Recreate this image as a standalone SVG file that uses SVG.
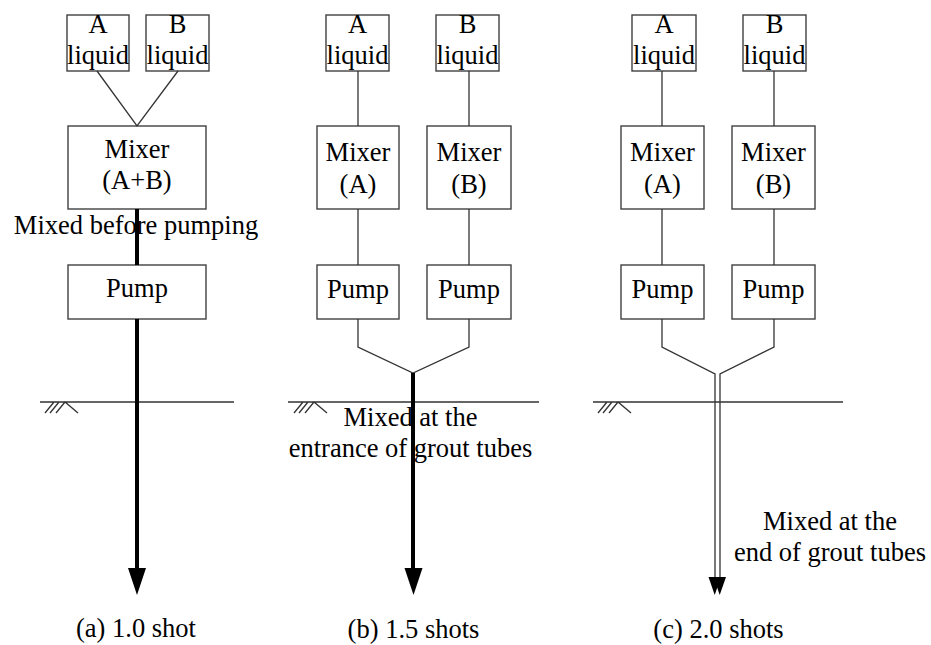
<svg xmlns="http://www.w3.org/2000/svg" width="931" height="645" viewBox="0 0 931 645">
<defs>
<style>
.box{fill:#fff;stroke:#404040;stroke-width:1.4}
.t{font-family:"Liberation Serif","Times New Roman",serif;font-size:26.5px;fill:#000;text-anchor:middle}
.thin{fill:none;stroke:#333;stroke-width:1.3}
.thick{fill:none;stroke:#000;stroke-width:4}
.head{fill:#000}
.ground{fill:none;stroke:#333;stroke-width:1.3}
</style>
</defs>
<rect width="931" height="645" fill="#fff"/>

<!-- Panel (a) -->
<g id="a-liquidA"><rect class="box" x="67" y="15" width="62" height="56"/><text class="t" x="98" y="33">A</text><text class="t" x="98" y="64">liquid</text></g>
<g id="a-liquidB"><rect class="box" x="146" y="15" width="63" height="56"/><text class="t" x="177.5" y="33">B</text><text class="t" x="177.5" y="64">liquid</text></g>
<g id="a-mixer"><rect class="box" x="68" y="126" width="138" height="83"/><text class="t" x="137" y="158">Mixer</text><text class="t" x="137" y="189">(A+B)</text></g>
<g id="a-pump"><rect class="box" x="68" y="265" width="138" height="54"/><text class="t" x="137" y="297">Pump</text></g>
<g id="a-label"><text class="t" x="136" y="234">Mixed before pumping</text></g>

<!-- Panel (b) -->
<g id="b-liquidA"><rect class="box" x="326" y="15" width="63" height="56"/><text class="t" x="357.5" y="33">A</text><text class="t" x="357.5" y="64">liquid</text></g>
<g id="b-liquidB"><rect class="box" x="436" y="15" width="63" height="56"/><text class="t" x="467.5" y="33">B</text><text class="t" x="467.5" y="64">liquid</text></g>
<g id="b-mixerA"><rect class="box" x="317" y="126" width="82" height="83"/><text class="t" x="358" y="161">Mixer</text><text class="t" x="358" y="193">(A)</text></g>
<g id="b-mixerB"><rect class="box" x="427" y="126" width="84" height="83"/><text class="t" x="469" y="161">Mixer</text><text class="t" x="469" y="193">(B)</text></g>
<g id="b-pumpA"><rect class="box" x="317" y="265" width="82" height="54"/><text class="t" x="358" y="298">Pump</text></g>
<g id="b-pumpB"><rect class="box" x="427" y="265" width="84" height="54"/><text class="t" x="469" y="298">Pump</text></g>
<g id="b-label"><text class="t" x="410.5" y="426">Mixed at the</text><text class="t" x="410.5" y="457">entrance of grout tubes</text></g>

<!-- Panel (c) -->
<g id="c-liquidA"><rect class="box" x="632" y="15" width="64" height="56"/><text class="t" x="664" y="33">A</text><text class="t" x="664" y="64">liquid</text></g>
<g id="c-liquidB"><rect class="box" x="743" y="15" width="63" height="56"/><text class="t" x="774.5" y="33">B</text><text class="t" x="774.5" y="64">liquid</text></g>
<g id="c-mixerA"><rect class="box" x="621" y="126" width="83" height="83"/><text class="t" x="662.5" y="161">Mixer</text><text class="t" x="662.5" y="193">(A)</text></g>
<g id="c-mixerB"><rect class="box" x="732" y="126" width="83" height="83"/><text class="t" x="773.5" y="161">Mixer</text><text class="t" x="773.5" y="193">(B)</text></g>
<g id="c-pumpA"><rect class="box" x="621" y="265" width="83" height="54"/><text class="t" x="662.5" y="298">Pump</text></g>
<g id="c-pumpB"><rect class="box" x="732" y="265" width="83" height="54"/><text class="t" x="773.5" y="298">Pump</text></g>
<g id="c-label"><text class="t" x="830" y="530">Mixed at the</text><text class="t" x="830" y="561">end of grout tubes</text></g>

<!-- Ground -->
<g id="ground">
<path class="ground" d="M40 402H234M45 413L54 402M50 413L59 402M56 413L65 402L78 413"/>
<path class="ground" d="M288 402H539M294 413L303 402M299 413L308 402M305 413L314 402L327 413"/>
<path class="ground" d="M593 402H843M598 413L607 402M603 413L612 402M609 413L618 402L631 413"/>
</g>

<!-- Captions -->
<g id="captions">
<text class="t" x="136" y="637">(a) 1.0 shot</text>
<text class="t" x="413.5" y="638">(b) 1.5 shots</text>
<text class="t" x="718.5" y="638">(c) 2.0 shots</text>
</g>

<!-- Connectors -->
<g id="connectors">
<path class="thin" d="M97 71L137 126L178 71"/>
<path class="thick" d="M137 209V265M137 319V570"/>
<polygon class="head" points="128,568 146,568 137,595"/>

<path class="thin" d="M358 71V126M469 71V126M358 209V265M469 209V265"/>
<path class="thin" d="M358 319V347L413 373L469 347V319"/>
<path class="thick" d="M413 373V570"/>
<polygon class="head" points="404.5,568 422.5,568 413.5,595"/>

<path class="thin" d="M662 71V126M774 71V126M662 209V265M774 209V265"/>
<path class="thin" d="M662 319V347L715 374V579M774 319V347L720 374V579"/>
<polygon class="head" points="708.5,577 721,577 714.7,595"/>
<polygon class="head" points="713.5,577 726,577 719.7,595"/>
</g>
</svg>
